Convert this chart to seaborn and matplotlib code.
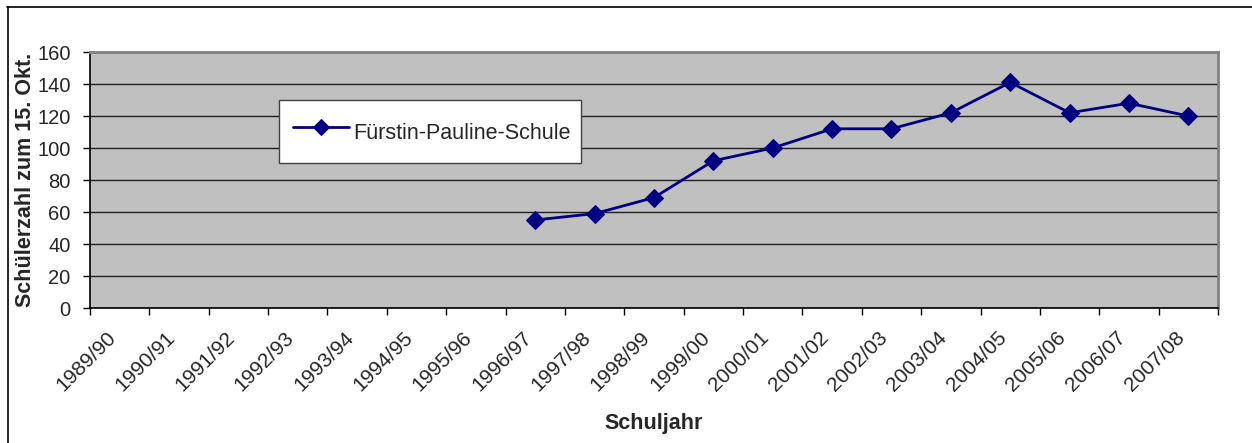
"""Schülerzahl der Fürstin-Pauline-Schule je Schuljahr."""

import matplotlib
matplotlib.use("Agg")
import matplotlib.pyplot as plt
from matplotlib.lines import Line2D
import seaborn as sns
import numpy as np
import pandas as pd

# Data
school_years = ['1989/90', '1990/91', '1991/92', '1992/93', '1993/94', '1994/95',
                '1995/96', '1996/97', '1997/98', '1998/99', '1999/00', '2000/01',
                '2001/02', '2002/03', '2003/04', '2004/05', '2005/06', '2006/07',
                '2007/08']
data_years = ['1996/97', '1997/98', '1998/99', '1999/00', '2000/01', '2001/02',
              '2002/03', '2003/04', '2004/05', '2005/06', '2006/07', '2007/08']
students = [55, 59, 69, 92, 100, 112, 112, 122, 141, 122, 128, 120]
series_name = 'Fürstin-Pauline-Schule'
y_ticks = [0, 20, 40, 60, 80, 100, 120, 140, 160]

df = pd.DataFrame({'Schuljahr': data_years, 'Schüler': students})
df['pos'] = df['Schuljahr'].map({s: i for i, s in enumerate(school_years)})

sns.set_style('white')
plt.rcParams['font.family'] = ['Liberation Sans', 'DejaVu Sans']

fig = plt.figure(figsize=(12.52, 4.43), dpi=100)
ax = fig.add_axes([90 / 1252, 1 - 308 / 443, 1128 / 1252, 256 / 443])
ax.set_facecolor('#c0c0c0')

navy = '#000080'
sns.lineplot(data=df, x='pos', y='Schüler', ax=ax, color=navy, linewidth=2,
             marker='D', markersize=9.5, markeredgecolor=navy, label=series_name,
             legend=False)

# Axes & grid
n = len(school_years)
ax.set_xlim(-0.5, n - 0.5)
ax.set_ylim(0, 160)
ax.set_yticks(y_ticks)
ax.yaxis.grid(True, color='#202020', linewidth=1)
ax.set_axisbelow(True)

# category boundaries get tick marks, labels sit at category centres
ax.set_xticks(np.arange(n + 1) - 0.5)
ax.set_xticklabels([])
ax.set_xticks(np.arange(n), minor=True)
ax.set_xticklabels(school_years, minor=True, rotation=45, ha='right', va='bottom',
                   rotation_mode='anchor', fontsize=15)
ax.tick_params(axis='x', which='minor', length=0, pad=24)
ax.tick_params(axis='x', which='major', length=5, width=1, color='black', direction='out', bottom=True)
ax.tick_params(axis='y', length=5, width=1, color='black', direction='out', left=True,
               labelsize=14.5, pad=9)

for side in ['left', 'bottom']:
    ax.spines[side].set_color('black')
    ax.spines[side].set_linewidth(1.2)
for side in ['top', 'right']:
    ax.spines[side].set_color('#808080')
    ax.spines[side].set_linewidth(2)

ax.set_xlabel('Schuljahr', fontsize=15.5, fontweight='bold', labelpad=13)
ax.set_ylabel('Schülerzahl zum 15. Okt.', fontsize=15.5, fontweight='bold', labelpad=1)

# Legend
leg = ax.legend(loc='lower left', bbox_to_anchor=(0.1676, 0.566, 0.268, 0.254),
                mode='expand', frameon=True, fancybox=False, fontsize=15.5,
                handlelength=2.6, handletextpad=0.2, handleheight=2.1,
                borderaxespad=0, borderpad=0.65)
leg.get_frame().set_edgecolor('#404040')
leg.get_frame().set_facecolor('white')
leg.get_frame().set_linewidth(1)
leg.get_frame().set_alpha(1)
leg.legend_handles[0].set_markersize(8)

# Chart border (top and left visible)
fig.add_artist(Line2D([7 / 1252, 1.0], [1 - 7 / 443, 1 - 7 / 443], color='black', linewidth=1.2))
fig.add_artist(Line2D([7.5 / 1252, 7.5 / 1252], [0, 1 - 7 / 443], color='black', linewidth=1.2))

fig.savefig('out.png', dpi=100)
plt.close(fig)
